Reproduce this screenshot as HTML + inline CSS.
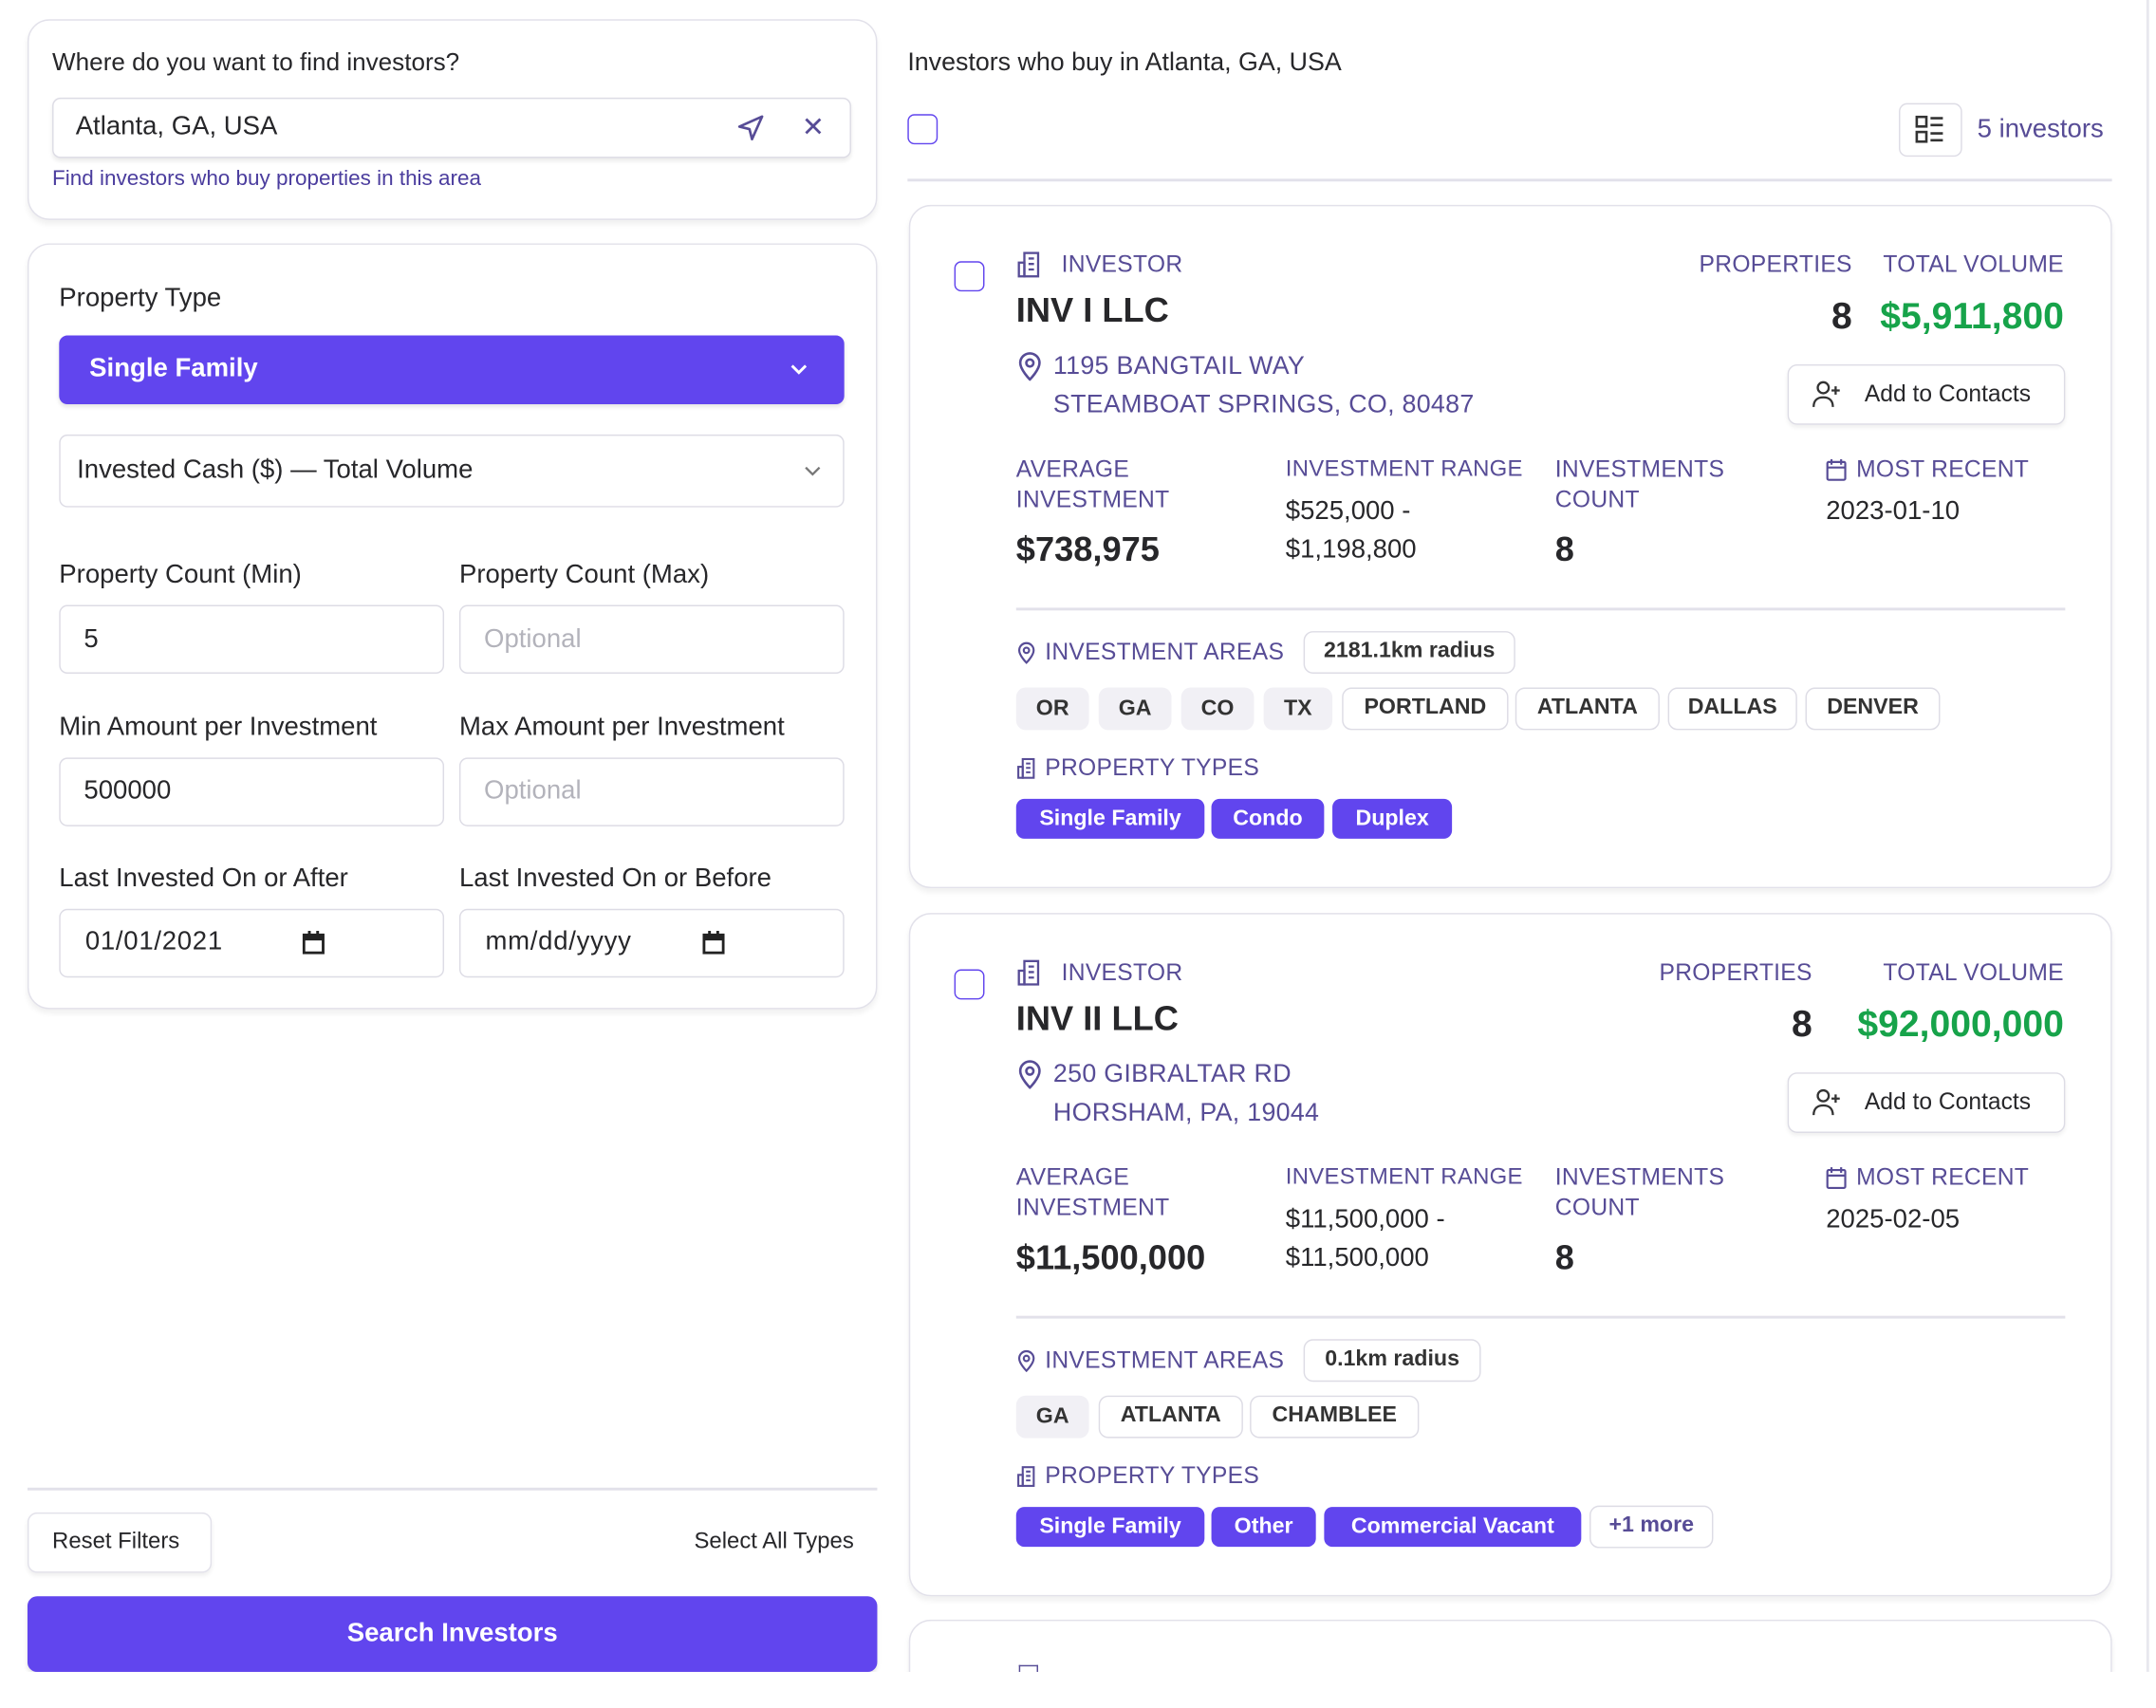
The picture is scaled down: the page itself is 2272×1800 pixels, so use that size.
<!DOCTYPE html>
<html><head><meta charset="utf-8"><style>
html,body{margin:0;padding:0;background:#fff;width:2272px;height:1800px;overflow:hidden}
#w{position:absolute;left:0;top:0;width:1568px;height:1242px;transform:scale(1.44898);transform-origin:0 0;font-family:"Liberation Sans",sans-serif;color:#27272a;overflow:hidden}
.a{position:absolute;box-sizing:border-box}
.t{position:absolute;transform:translateY(-50%);white-space:nowrap;line-height:1.2}
.card{position:absolute;box-sizing:border-box;border:1.5px solid #e2e1ea;border-radius:16px;background:#fff;box-shadow:0 3px 4px rgba(0,0,0,.06)}
.inp{position:absolute;box-sizing:border-box;border:1.5px solid #dddce5;border-radius:6px;background:#fff}
.lab{font-size:19px;color:#27272a}
.pl{color:#574c96;font-size:16px;letter-spacing:.2px}
.gchip{position:absolute;box-sizing:border-box;background:#f1f0f5;border-radius:7px;font-size:16px;font-weight:bold;color:#333;text-align:center;line-height:31px;height:31px}
.ochip{position:absolute;box-sizing:border-box;background:#fff;border:1.5px solid #dddce5;border-radius:7px;font-size:16px;font-weight:bold;color:#333;text-align:center;line-height:28px;height:31px}
.pchip{position:absolute;box-sizing:border-box;background:#6145ee;border-radius:6px;font-size:16px;font-weight:bold;color:#fff;text-align:center;line-height:29px;height:29px}
.cb{position:absolute;width:22px;height:22px;box-sizing:border-box;border:1.8px solid #6145ee;border-radius:5px;background:#fff}
</style></head><body><div id="w">

<div class="card" style="left:20px;top:14px;width:618px;height:146px"></div>
<div class="t lab" style="left:38px;top:46px;font-size:18px">Where do you want to find investors?</div>
<div class="inp" style="left:38px;top:71px;width:581px;height:44px;box-shadow:0 2px 3px rgba(0,0,0,.08)"></div>
<div class="t" style="left:55px;top:93px;font-size:19px">Atlanta, GA, USA</div>
<svg class="a" style="left:535px;top:82px" width="22" height="22" viewBox="0 0 24 24" fill="none" stroke="#574c96" stroke-width="2" stroke-linejoin="round"><path d="M21 3 3 11l8 2 2 8z"/></svg>
<div class="t" style="left:583px;top:93px;font-size:20px;color:#574c96">✕</div>
<div class="t" style="left:38px;top:131px;font-size:15.5px;color:#4b3d9e">Find investors who buy properties in this area</div>

<div class="card" style="left:20px;top:177px;width:618px;height:557px"></div>
<div class="t lab" style="left:43px;top:218px">Property Type</div>
<div class="a" style="left:43px;top:244px;width:571px;height:50px;background:#6145ee;border-radius:6px;box-shadow:0 2px 3px rgba(0,0,0,.1)"></div>
<div class="t" style="left:65px;top:269px;font-size:19px;color:#fff;font-weight:bold">Single Family</div>
<svg class="a" style="left:573px;top:263px" width="16" height="12" viewBox="0 0 16 12" fill="none" stroke="#fff" stroke-width="2"><path d="M3 3l5 5 5-5"/></svg>
<div class="inp" style="left:43px;top:316px;width:571px;height:53px"></div>
<div class="t" style="left:56px;top:343px;font-size:19px">Invested Cash ($) — Total Volume</div>
<svg class="a" style="left:583px;top:337px" width="16" height="12" viewBox="0 0 16 12" fill="none" stroke="#777" stroke-width="1.6"><path d="M3 3l5 5 5-5"/></svg>

<div class="t lab" style="left:43px;top:419px">Property Count (Min)</div>
<div class="t lab" style="left:334px;top:419px">Property Count (Max)</div>
<div class="inp" style="left:43px;top:440px;width:280px;height:50px"></div>
<div class="inp" style="left:334px;top:440px;width:280px;height:50px"></div>
<div class="t" style="left:61px;top:466px;font-size:19px">5</div>
<div class="t" style="left:352px;top:466px;font-size:19px;color:#b3b3bb">Optional</div>

<div class="t lab" style="left:43px;top:530px">Min Amount per Investment</div>
<div class="t lab" style="left:334px;top:530px">Max Amount per Investment</div>
<div class="inp" style="left:43px;top:551px;width:280px;height:50px"></div>
<div class="inp" style="left:334px;top:551px;width:280px;height:50px"></div>
<div class="t" style="left:61px;top:576px;font-size:19px">500000</div>
<div class="t" style="left:352px;top:576px;font-size:19px;color:#b3b3bb">Optional</div>

<div class="t lab" style="left:43px;top:640px">Last Invested On or After</div>
<div class="t lab" style="left:334px;top:640px">Last Invested On or Before</div>
<div class="inp" style="left:43px;top:661px;width:280px;height:50px"></div>
<div class="inp" style="left:334px;top:661px;width:280px;height:50px"></div>
<div class="t" style="left:62px;top:686px;font-size:19px;letter-spacing:.5px">01/01/2021</div>
<div class="t" style="left:353px;top:686px;font-size:19px;letter-spacing:.5px">mm/dd/yyyy</div>
<svg class="a" style="left:220px;top:677px" width="16" height="17" viewBox="0 0 16 17"><rect x="1" y="3" width="14" height="13" fill="none" stroke="#222" stroke-width="2"/><rect x="1" y="3" width="14" height="4" fill="#222"/><rect x="4" y="0" width="2" height="4" fill="#222"/><rect x="10" y="0" width="2" height="4" fill="#222"/></svg>
<svg class="a" style="left:511px;top:677px" width="16" height="17" viewBox="0 0 16 17"><rect x="1" y="3" width="14" height="13" fill="none" stroke="#222" stroke-width="2"/><rect x="1" y="3" width="14" height="4" fill="#222"/><rect x="4" y="0" width="2" height="4" fill="#222"/><rect x="10" y="0" width="2" height="4" fill="#222"/></svg>

<div class="a" style="left:20px;top:1082px;width:618px;height:1.5px;background:#e2e1ea"></div>
<div class="a" style="left:20px;top:1100px;width:134px;height:44px;border:1.5px solid #e2e1ea;border-radius:7px;box-shadow:0 2px 3px rgba(0,0,0,.06)"></div>
<div class="t" style="left:38px;top:1122px;font-size:16.5px">Reset Filters</div>
<div class="t" style="right:947px;top:1122px;font-size:16.5px">Select All Types</div>
<div class="a" style="left:20px;top:1161px;width:618px;height:55px;background:#6145ee;border-radius:7px;box-shadow:0 2px 3px rgba(0,0,0,.1)"></div>
<div class="t" style="left:20px;width:618px;text-align:center;top:1189px;font-size:19px;color:#fff;font-weight:bold">Search Investors</div>

<div class="t" style="left:660px;top:45px;font-size:18.5px">Investors who buy in Atlanta, GA, USA</div>
<div class="cb" style="left:660px;top:83px"></div>
<div class="a" style="left:1381px;top:75px;width:46px;height:39px;border:1.5px solid #dddce5;border-radius:6px"></div>
<svg class="a" style="left:1393px;top:84px" width="22" height="21" viewBox="0 0 22 21" fill="none" stroke="#333" stroke-width="1.8"><rect x="1" y="1" width="7" height="7"/><rect x="1" y="12" width="7" height="7"/><path d="M11 2h9M11 7h9M11 13h9M11 18h9"/></svg>
<div class="t" style="left:1438px;top:95px;font-size:19px;color:#574c96">5 investors</div>
<div class="a" style="left:660px;top:130px;width:876px;height:1.5px;background:#e2e1ea"></div>
<div class="a" style="left:1561px;top:0;width:1.5px;height:1216px;background:#e8e8ee"></div>

<div class="card" style="left:661px;top:149px;width:875px;height:497px"></div>
<div class="cb" style="left:694px;top:190px"></div>
<svg class="a" style="left:739px;top:182px" width="20" height="20" viewBox="0 0 20 20" fill="none" stroke="#574c96" stroke-width="1.6"><rect x="6" y="2" width="10" height="17"/><rect x="2" y="9" width="4" height="10"/><path d="M9 6h4M9 10h4M9 14h4"/></svg>
<div class="t pl" style="left:772px;top:193px;font-size:17px">INVESTOR</div>
<div class="t" style="left:739px;top:226px;font-size:25px;font-weight:bold">INV I LLC</div>
<svg class="a" style="left:739px;top:255px" width="20" height="22" viewBox="0 0 20 22" fill="none" stroke="#574c96" stroke-width="1.8"><path d="M10 21s7-7 7-12a7 7 0 0 0-14 0c0 5 7 12 7 12z"/><circle cx="10" cy="9" r="2.6"/></svg>
<div class="t pl" style="left:766px;top:266px;font-size:18.5px">1195 BANGTAIL WAY</div>
<div class="t pl" style="left:766px;top:294px;font-size:18.5px">STEAMBOAT SPRINGS, CO, 80487</div>
<div class="t pl" style="right:221px;top:193px;font-size:17px">PROPERTIES</div>
<div class="t pl" style="right:67px;top:193px;font-size:17px">TOTAL VOLUME</div>
<div class="t" style="right:221px;top:230px;font-size:27px;font-weight:bold">8</div>
<div class="t" style="right:67px;top:230px;font-size:27px;font-weight:bold;color:#17a34a">$5,911,800</div>
<div class="a" style="left:1300px;top:265px;width:202px;height:44px;border:1.5px solid #dddce5;border-radius:7px;box-shadow:0 2px 3px rgba(0,0,0,.06)"></div>
<svg class="a" style="left:1318px;top:276px" width="22" height="22" viewBox="0 0 22 22" fill="none" stroke="#333" stroke-width="1.6"><circle cx="8" cy="6" r="4"/><path d="M1 20c0-5 3-7 7-7s7 2 7 7M17 5v6M14 8h6"/></svg>
<div class="t" style="left:1356px;top:287px;font-size:17px">Add to Contacts</div>

<div class="t pl" style="left:739px;top:342px;font-size:17px">AVERAGE</div>
<div class="t pl" style="left:739px;top:364px;font-size:17px">INVESTMENT</div>
<div class="t" style="left:739px;top:400px;font-size:25px;font-weight:bold">$738,975</div>
<div class="t pl" style="left:935px;top:342px;font-size:16.5px">INVESTMENT RANGE</div>
<div class="t" style="left:935px;top:373px;font-size:19px">$525,000 -</div>
<div class="t" style="left:935px;top:401px;font-size:19px">$1,198,800</div>
<div class="t pl" style="left:1131px;top:342px;font-size:17px">INVESTMENTS</div>
<div class="t pl" style="left:1131px;top:364px;font-size:17px">COUNT</div>
<div class="t" style="left:1131px;top:400px;font-size:25px;font-weight:bold">8</div>
<svg class="a" style="left:1328px;top:333px" width="15" height="17" viewBox="0 0 15 17" fill="none" stroke="#574c96" stroke-width="1.5"><rect x="1" y="3" width="13" height="13" rx="1"/><path d="M1 7h13M4 1v4M11 1v4"/></svg>
<div class="t pl" style="left:1350px;top:342px;font-size:17px">MOST RECENT</div>
<div class="t" style="left:1328px;top:373px;font-size:19px">2023-01-10</div>

<div class="a" style="left:739px;top:442px;width:763px;height:1.5px;background:#e2e1ea"></div>
<svg class="a" style="left:739px;top:466px" width="15" height="17" viewBox="0 0 20 22" fill="none" stroke="#574c96" stroke-width="2"><path d="M10 21s7-7 7-12a7 7 0 0 0-14 0c0 5 7 12 7 12z"/><circle cx="10" cy="9" r="2.6"/></svg>
<div class="t pl" style="left:760px;top:475px;font-size:17px">INVESTMENT AREAS</div>
<div class="ochip" style="left:948px;top:459px;width:154px">2181.1km radius</div>
<div class="gchip" style="left:739px;top:500px;width:53px">OR</div>
<div class="gchip" style="left:799px;top:500px;width:53px">GA</div>
<div class="gchip" style="left:859px;top:500px;width:53px">CO</div>
<div class="gchip" style="left:919px;top:500px;width:50px">TX</div>
<div class="ochip" style="left:976px;top:500px;width:121px">PORTLAND</div>
<div class="ochip" style="left:1102px;top:500px;width:105px">ATLANTA</div>
<div class="ochip" style="left:1213px;top:500px;width:94px">DALLAS</div>
<div class="ochip" style="left:1313px;top:500px;width:98px">DENVER</div>
<svg class="a" style="left:739px;top:550px" width="16" height="17" viewBox="0 0 20 20" fill="none" stroke="#574c96" stroke-width="1.8"><rect x="6" y="2" width="10" height="17"/><rect x="2" y="9" width="4" height="10"/><path d="M9 6h4M9 10h4M9 14h4"/></svg>
<div class="t pl" style="left:760px;top:559px;font-size:17px">PROPERTY TYPES</div>
<div class="pchip" style="left:739px;top:581px;width:137px">Single Family</div>
<div class="pchip" style="left:881px;top:581px;width:82px">Condo</div>
<div class="pchip" style="left:969px;top:581px;width:87px">Duplex</div>

<div class="card" style="left:661px;top:664px;width:875px;height:497px"></div>
<div class="cb" style="left:694px;top:705px"></div>
<svg class="a" style="left:739px;top:697px" width="20" height="20" viewBox="0 0 20 20" fill="none" stroke="#574c96" stroke-width="1.6"><rect x="6" y="2" width="10" height="17"/><rect x="2" y="9" width="4" height="10"/><path d="M9 6h4M9 10h4M9 14h4"/></svg>
<div class="t pl" style="left:772px;top:708px;font-size:17px">INVESTOR</div>
<div class="t" style="left:739px;top:741px;font-size:25px;font-weight:bold">INV II LLC</div>
<svg class="a" style="left:739px;top:770px" width="20" height="22" viewBox="0 0 20 22" fill="none" stroke="#574c96" stroke-width="1.8"><path d="M10 21s7-7 7-12a7 7 0 0 0-14 0c0 5 7 12 7 12z"/><circle cx="10" cy="9" r="2.6"/></svg>
<div class="t pl" style="left:766px;top:781px;font-size:18.5px">250 GIBRALTAR RD</div>
<div class="t pl" style="left:766px;top:809px;font-size:18.5px">HORSHAM, PA, 19044</div>
<div class="t pl" style="right:250px;top:708px;font-size:17px">PROPERTIES</div>
<div class="t pl" style="right:67px;top:708px;font-size:17px">TOTAL VOLUME</div>
<div class="t" style="right:250px;top:745px;font-size:27px;font-weight:bold">8</div>
<div class="t" style="right:67px;top:745px;font-size:27px;font-weight:bold;color:#17a34a">$92,000,000</div>
<div class="a" style="left:1300px;top:780px;width:202px;height:44px;border:1.5px solid #dddce5;border-radius:7px;box-shadow:0 2px 3px rgba(0,0,0,.06)"></div>
<svg class="a" style="left:1318px;top:791px" width="22" height="22" viewBox="0 0 22 22" fill="none" stroke="#333" stroke-width="1.6"><circle cx="8" cy="6" r="4"/><path d="M1 20c0-5 3-7 7-7s7 2 7 7M17 5v6M14 8h6"/></svg>
<div class="t" style="left:1356px;top:802px;font-size:17px">Add to Contacts</div>

<div class="t pl" style="left:739px;top:857px;font-size:17px">AVERAGE</div>
<div class="t pl" style="left:739px;top:879px;font-size:17px">INVESTMENT</div>
<div class="t" style="left:739px;top:915px;font-size:25px;font-weight:bold">$11,500,000</div>
<div class="t pl" style="left:935px;top:857px;font-size:16.5px">INVESTMENT RANGE</div>
<div class="t" style="left:935px;top:888px;font-size:19px">$11,500,000 -</div>
<div class="t" style="left:935px;top:916px;font-size:19px">$11,500,000</div>
<div class="t pl" style="left:1131px;top:857px;font-size:17px">INVESTMENTS</div>
<div class="t pl" style="left:1131px;top:879px;font-size:17px">COUNT</div>
<div class="t" style="left:1131px;top:915px;font-size:25px;font-weight:bold">8</div>
<svg class="a" style="left:1328px;top:848px" width="15" height="17" viewBox="0 0 15 17" fill="none" stroke="#574c96" stroke-width="1.5"><rect x="1" y="3" width="13" height="13" rx="1"/><path d="M1 7h13M4 1v4M11 1v4"/></svg>
<div class="t pl" style="left:1350px;top:857px;font-size:17px">MOST RECENT</div>
<div class="t" style="left:1328px;top:888px;font-size:19px">2025-02-05</div>

<div class="a" style="left:739px;top:957px;width:763px;height:1.5px;background:#e2e1ea"></div>
<svg class="a" style="left:739px;top:981px" width="15" height="17" viewBox="0 0 20 22" fill="none" stroke="#574c96" stroke-width="2"><path d="M10 21s7-7 7-12a7 7 0 0 0-14 0c0 5 7 12 7 12z"/><circle cx="10" cy="9" r="2.6"/></svg>
<div class="t pl" style="left:760px;top:990px;font-size:17px">INVESTMENT AREAS</div>
<div class="ochip" style="left:948px;top:974px;width:129px">0.1km radius</div>
<div class="gchip" style="left:739px;top:1015px;width:53px">GA</div>
<div class="ochip" style="left:799px;top:1015px;width:105px">ATLANTA</div>
<div class="ochip" style="left:909px;top:1015px;width:123px">CHAMBLEE</div>
<svg class="a" style="left:739px;top:1065px" width="16" height="17" viewBox="0 0 20 20" fill="none" stroke="#574c96" stroke-width="1.8"><rect x="6" y="2" width="10" height="17"/><rect x="2" y="9" width="4" height="10"/><path d="M9 6h4M9 10h4M9 14h4"/></svg>
<div class="t pl" style="left:760px;top:1074px;font-size:17px">PROPERTY TYPES</div>
<div class="pchip" style="left:739px;top:1096px;width:137px">Single Family</div>
<div class="pchip" style="left:881px;top:1096px;width:76px">Other</div>
<div class="pchip" style="left:963px;top:1096px;width:187px">Commercial Vacant</div>
<div class="ochip" style="left:1156px;top:1095px;width:90px;color:#574c96;line-height:27px">+1 more</div>

<div class="card" style="left:661px;top:1178px;width:875px;height:60px"></div>
<div class="a" style="left:741px;top:1211px;width:14px;height:6px;border:1.6px solid #574c96;border-bottom:none"></div>

<div class="a" style="left:0;top:1216px;width:1568px;height:26px;background:#fff"></div>
</div></body></html>
